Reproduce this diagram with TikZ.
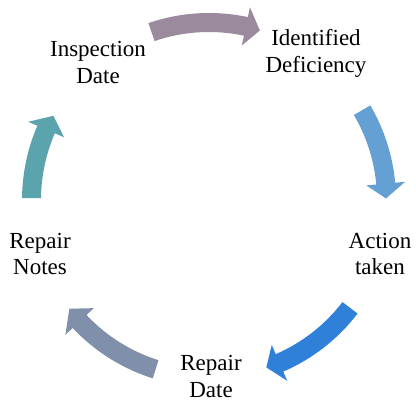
\documentclass[tikz,border=0pt]{standalone}
\usepackage{fontspec}
\setmainfont{Liberation Serif}
\usepackage{xcolor}
\usepackage{tikz}

\definecolor{mauve}{HTML}{9B8A9D}
\definecolor{skyblue}{HTML}{65A0D5}
\definecolor{deepblue}{HTML}{2E80D8}
\definecolor{slate}{HTML}{8090AA}
\definecolor{teal}{HTML}{5BA4AE}

\tikzset{
  label/.style={align=center, inner sep=0pt, font=\fontsize{23}{27}\selectfont}
}

\begin{document}
\begin{tikzpicture}[x=1pt, y=1pt]
                        \useasboundingbox (0,0) rectangle (416,402);
                        \coordinate (c) at (209,202);

                        \node (insp) at (98,339) [label] {Inspection\\Date};
                        \node (defic) at (316,349) [label] {Identified\\Deficiency};
                        \node (action) at (380,148) [label] {Action\\taken};
                        \node (rdate) at (211,26) [label] {Repair\\Date};
                        \node (rnotes) at (40,148) [label] {Repair\\Notes};

                        % block arrows round the cycle: tail / head base / tip angle
                        \foreach \t/\h/\p/\col in {108.9/78/73.3/mauve, 30.4/5.3/0.5/skyblue,
                                                   -37.4/-66.6/-71.1/deepblue, -107.5/-136.8/-142.1/slate,
                                                   179.4/156.6/151.6/teal} {
                            \fill[\col, shift={(c)}] (\t:168) arc[start angle=\t, end angle=\h, radius=168]
                                -- (\h:158) -- (\p:177) -- (\h:197) -- (\h:187)
                                arc[start angle=\h, end angle=\t, radius=187] -- cycle;
                        }
                    \end{tikzpicture}
\end{document}
